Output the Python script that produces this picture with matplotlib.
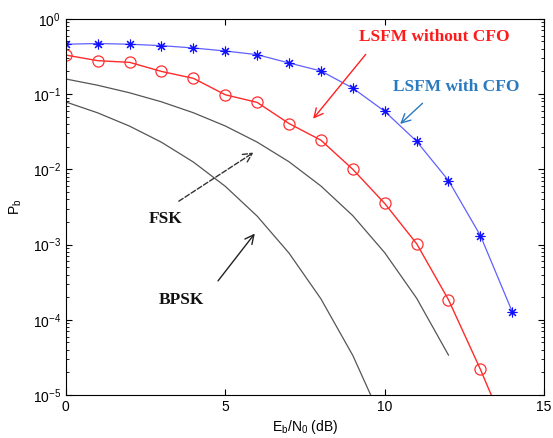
import matplotlib
matplotlib.use("Agg")
import matplotlib.pyplot as plt

# Eb/N0 (dB) points
snr_cfo = [0, 1, 2, 3, 4, 5, 6, 7, 8, 9, 10, 11, 12, 13, 14]
pb_cfo = [0.46, 0.47, 0.46, 0.44, 0.41, 0.374, 0.334, 0.259, 0.203, 0.12,
          0.059, 0.0236, 0.0071, 0.00132, 1.28e-4]

snr_nocfo = [0, 1, 2, 3, 4, 5, 6, 7, 8, 9, 10, 11, 12, 13, 14]
pb_nocfo = [0.33, 0.278, 0.264, 0.20, 0.162, 0.098, 0.0775, 0.0406, 0.0244,
            0.01, 0.00352, 0.00103, 1.85e-4, 2.2e-5, 2.2e-6]

snr_fsk = [0, 1, 2, 3, 4, 5, 6, 7, 8, 9, 10, 11, 12]
pb_fsk = [0.1587, 0.131, 0.104, 0.0789, 0.0565, 0.0377, 0.0230, 0.0126,
          0.0060, 0.00242, 7.8e-4, 1.94e-4, 3.4e-5]

snr_bpsk = [0, 1, 2, 3, 4, 5, 6, 7, 8, 9, 10]
pb_bpsk = [0.0786, 0.0563, 0.0375, 0.0229, 0.0125, 0.00595, 0.00239, 7.7e-4,
           1.9e-4, 3.36e-5, 3.87e-6]

plt.rcParams['font.family'] = ['Liberation Sans', 'DejaVu Sans']
plt.rcParams['mathtext.fontset'] = 'custom'
plt.rcParams['mathtext.rm'] = 'Liberation Sans'
plt.rcParams['mathtext.it'] = 'Liberation Sans'

fig = plt.figure(figsize=(5.53, 4.38), dpi=100)
ax = fig.add_axes([0.119, 0.098, 0.865, 0.859])

ax.semilogy(snr_fsk, pb_fsk, color='#555555', lw=0.9)
ax.semilogy(snr_bpsk, pb_bpsk, color='#555555', lw=0.9)
ax.semilogy(snr_nocfo, pb_nocfo, color='#ff2a2a', lw=1.0, marker='o',
            ms=8, mfc='none', mec='#ff3030', mew=0.9)
ax.semilogy(snr_cfo, pb_cfo, color='#6060ff', lw=0.9, marker=(8, 2, 0),
            ms=7, mec='#1010ff', mew=0.8)

ax.set_xlim(0, 15)
ax.set_ylim(1e-5, 1)
ax.set_xticks([0, 5, 10, 15])
ax.tick_params(which='both', direction='in', top=True, right=True, labelsize=10)
ax.tick_params(which='major', length=4)
ax.tick_params(which='minor', length=2.5)
ax.set_xlabel(r'E$_\mathrm{b}$/N$_\mathrm{0}$ (dB)', fontsize=10, labelpad=3)
ax.set_ylabel(r'P$_\mathrm{b}$', fontsize=10, labelpad=6)

serif = dict(family=['Liberation Serif', 'DejaVu Serif'], fontweight='bold', fontsize=12.5)

ax.annotate('', xy=(7.70, 0.044), xytext=(9.46, 0.36),
            arrowprops=dict(arrowstyle='->', color='#ff2020', lw=1.0, mutation_scale=16))
ax.text(11.55, 0.57, 'LSFM without CFO', color='#ff1a1a', ha='center', va='center', **serif)

ax.annotate('', xy=(10.42, 0.0378), xytext=(11.25, 0.080),
            arrowprops=dict(arrowstyle='->', color='#2a7ac0', lw=1.0, mutation_scale=16))
ax.text(12.25, 0.125, 'LSFM with CFO', color='#2a7ac0', ha='center', va='center', **serif)

ax.annotate('', xy=(5.96, 0.01754), xytext=(3.47, 0.0036),
            arrowprops=dict(arrowstyle='->', color='#333333', lw=1.0, ls='--', mutation_scale=16))
ax.text(3.13, 0.0022, 'FSK', color='#111111', ha='center', va='center', **serif)

ax.annotate('', xy=(5.98, 1.5e-3), xytext=(4.72, 3.08e-4),
            arrowprops=dict(arrowstyle='->', color='#222222', lw=1.0, mutation_scale=16))
ax.text(3.63, 1.85e-4, 'BPSK', color='#111111', ha='center', va='center', **serif)

fig.savefig('out.png', dpi=100)
